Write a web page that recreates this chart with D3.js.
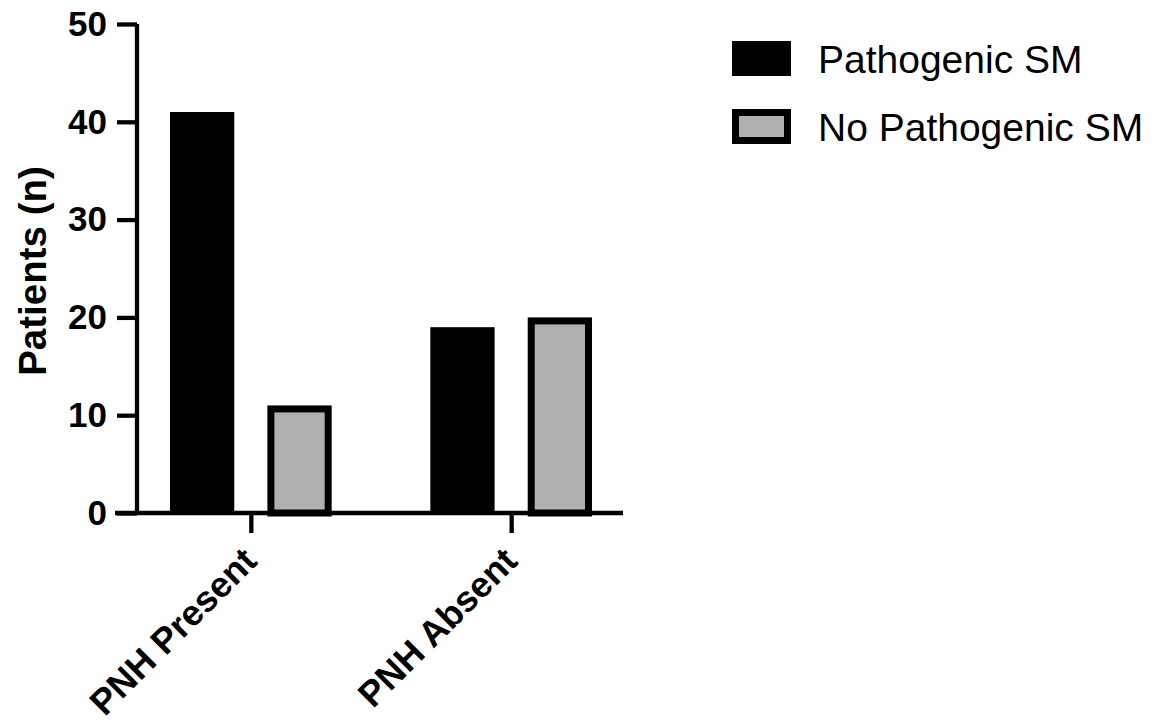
<!DOCTYPE html>
<html>
<head>
<meta charset="utf-8">
<script src="https://cdn.jsdelivr.net/npm/d3@7/dist/d3.min.js"></script>
<style>
  html, body { margin: 0; padding: 0; background: #fff; }
  svg { display: block; font-family: "Liberation Sans", Arial, Helvetica, sans-serif; }
</style>
</head>
<body>
<svg id="chart" width="1162" height="725"></svg>
<script>
// Patients grouped by PNH status, split by somatic mutation (SM) finding
const categories = ["PNH Present", "PNH Absent"];
const series = ["Pathogenic SM", "No Pathogenic SM"];
const pathogenicSM = [41, 19];
const noPathogenicSM = [11, 20];
const yTicks = [0, 10, 20, 30, 40, 50];

const values = [pathogenicSM, noPathogenicSM];
const fills = ["#000000", "#b0b0b0"];
const outlined = [false, true];

const svg = d3.select("#chart");

const y = d3.scaleLinear().domain([0, 50]).range([513, 24]);
const x0 = d3.scaleBand().domain(categories).range([170, 592]).paddingInner(0.379).paddingOuter(0);
const x1 = d3.scaleBand().domain(series).range([0, x0.bandwidth()]).paddingInner(0.34);

const axisX = 137;
const stroke = 7;

// bars
categories.forEach((cat, ci) => {
  series.forEach((s, si) => {
    const v = values[si][ci];
    const bx = x0(cat) + x1(s);
    const bw = x1.bandwidth();
    const top = y(v), bottom = y(0);
    if (outlined[si]) {
      svg.append("rect")
        .attr("x", bx + stroke / 2).attr("y", top + stroke / 2)
        .attr("width", bw - stroke).attr("height", bottom - top - stroke / 2)
        .attr("fill", fills[si]).attr("stroke", "#000").attr("stroke-width", stroke);
    } else {
      svg.append("rect")
        .attr("x", bx).attr("y", top)
        .attr("width", bw).attr("height", bottom - top)
        .attr("fill", fills[si]);
    }
  });
});

// y axis
const yAxis = d3.axisLeft(y).tickValues(yTicks).tickSize(20).tickPadding(10).tickFormat(d3.format("d"));
const gy = svg.append("g").attr("transform", `translate(${axisX},0)`).call(yAxis);
gy.select(".domain").attr("d", `M0,${y(50)}V${y(0) + 2}`).attr("stroke", "#000").attr("stroke-width", 4.3);
gy.selectAll(".tick line").attr("stroke", "#000").attr("stroke-width", 4.3);
gy.selectAll(".tick text")
  .attr("font-size", 35).attr("font-weight", "bold").attr("fill", "#000")
  .attr("font-family", "Liberation Sans, Arial, sans-serif");

// x axis
const xAxis = d3.axisBottom(d3.scalePoint().domain(categories).range([x0(categories[0]) + x0.bandwidth() / 2, x0(categories[1]) + x0.bandwidth() / 2]))
  .tickSize(20).tickFormat("");
const gx = svg.append("g").attr("transform", `translate(0,${y(0)})`).call(xAxis);
gx.select(".domain").attr("d", `M115,0H623`).attr("stroke", "#000").attr("stroke-width", 4.3);
gx.selectAll(".tick line").attr("stroke", "#000").attr("stroke-width", 4.3);

// rotated category labels
categories.forEach(cat => {
  const cx = x0(cat) + x0.bandwidth() / 2;
  svg.append("text")
    .attr("transform", `translate(${cx + 8},563) rotate(-45)`)
    .attr("text-anchor", "end")
    .attr("font-size", 36).attr("font-weight", "bold").attr("fill", "#000")
    .text(cat);
});

// y axis title
svg.append("text")
  .attr("transform", `translate(46,271) rotate(-90)`)
  .attr("text-anchor", "middle")
  .attr("font-size", 38.5).attr("font-weight", "bold").attr("fill", "#000")
  .text("Patients (n)");

// legend
const legendRows = [58.5, 126.5];
series.forEach((s, si) => {
  const cy = legendRows[si];
  if (outlined[si]) {
    svg.append("rect")
      .attr("x", 732 + stroke / 2).attr("y", cy - 17.5 + stroke / 2)
      .attr("width", 59 - stroke).attr("height", 35 - stroke)
      .attr("fill", fills[si]).attr("stroke", "#000").attr("stroke-width", stroke);
  } else {
    svg.append("rect")
      .attr("x", 732).attr("y", cy - 17.5)
      .attr("width", 59).attr("height", 35)
      .attr("fill", fills[si]);
  }
  svg.append("text")
    .attr("x", 818).attr("y", cy + 14)
    .attr("font-size", 39).attr("fill", "#000")
    .text(s);
});
</script>
</body>
</html>
